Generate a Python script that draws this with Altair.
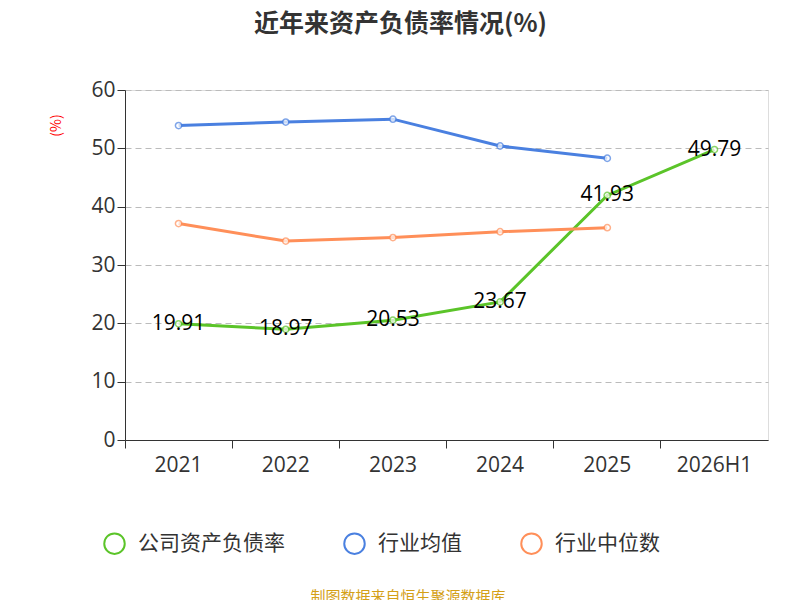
import altair as alt
import pandas as pd

years = ["2021", "2022", "2023", "2024", "2025", "2026H1"]
company = [19.91, 18.97, 20.53, 23.67, 41.93, 49.79]
industry_mean = [53.9, 54.5, 55.0, 50.4, 48.3]
industry_median = [37.1, 34.1, 34.7, 35.7, 36.4]

names = ["公司资产负债率", "行业均值", "行业中位数"]
colors = ["#5bc429", "#4a80e0", "#ff8f59"]

rows = []
for y, v in zip(years, company):
    rows.append({"year": y, "value": v, "series": names[0]})
for y, v in zip(years, industry_mean):
    rows.append({"year": y, "value": v, "series": names[1]})
for y, v in zip(years, industry_median):
    rows.append({"year": y, "value": v, "series": names[2]})
df = pd.DataFrame(rows)

x = alt.X("year:N", sort=years, title=None,
          scale=alt.Scale(type="band", paddingInner=0, paddingOuter=0),
          axis=alt.Axis(labelAngle=0, labelFontSize=21, labelColor="#333",
                        bandPosition=0, tickSize=8, domainColor="#333",
                        tickColor="#333", labelPadding=6, labelFont="Open Sans"))
y = alt.Y("value:Q", title="(%)",
          scale=alt.Scale(domain=[0, 60]),
          axis=alt.Axis(values=[0, 10, 20, 30, 40, 50, 60], labelFontSize=21,
                        labelColor="#333", grid=True, gridDash=[6, 4],
                        gridColor="#bbb", domainColor="#333", tickColor="#333",
                        tickSize=8, titleColor="red", titleFontSize=14,
                        titleFontWeight="normal", titleAngle=-90, labelFont="Open Sans",
                        titleAlign="center", titleX=-62, titleY=35))
color = alt.Color("series:N", sort=names,
                  scale=alt.Scale(domain=names, range=colors),
                  legend=alt.Legend(title=None, orient="none", direction="horizontal",
                                    legendX=-22, legendY=442,
                                    labelFontSize=21, labelColor="#333",
                                    symbolType="circle", symbolSize=420,
                                    symbolFillColor="white", symbolStrokeWidth=2,
                                    columnPadding=55, labelOffset=12))

lines = alt.Chart(df).mark_line(strokeWidth=3).encode(x=x, y=y, color=color)
points = alt.Chart(df).mark_point(filled=True, fill="white", size=40, strokeWidth=1.5).encode(
    x=x, y=y, stroke=alt.Stroke("series:N", scale=alt.Scale(domain=names, range=colors), legend=None))
labels = alt.Chart(df[df.series == names[0]]).mark_text(fontSize=21, color="black",
                                                        font="Open Sans").encode(
    x=x, y=y, text=alt.Text("value:Q", format=".2f"))
source = alt.Chart(pd.DataFrame({"t": ["制图数据来自恒生聚源数据库"]})).mark_text(
    fontSize=15, color="#d4a017").encode(x=alt.value(283), y=alt.value(507), text="t:N")

chart = alt.layer(lines, points, labels, source).properties(
    width=643, height=350,
    autosize=alt.AutoSizeParams(type="none"),
    padding={"left": 117, "top": 82, "right": 24, "bottom": 160},
    title=alt.Title("近年来资产负债率情况(%)", fontSize=25, fontWeight="bold",
                    color="#333", offset=42, anchor="middle", dx=-46),
).configure_view(stroke=None).configure(font="Noto Sans CJK SC")

chart.save("out.html", embed_options={"renderer": "svg", "actions": False})
